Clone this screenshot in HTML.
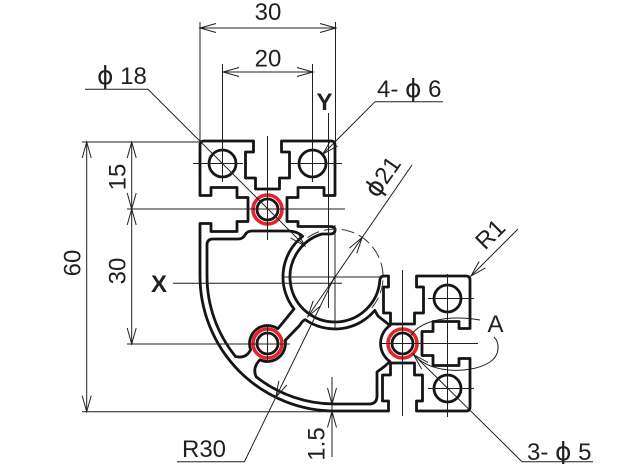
<!DOCTYPE html>
<html><head><meta charset="utf-8">
<style>
html,body{margin:0;padding:0;background:#fff;}
svg{display:block;}
text{font-family:"Liberation Sans",Arial,sans-serif;fill:#231f20;}
.ph{font-family:"DejaVu Sans","Liberation Sans",sans-serif;}
</style></head>
<body>
<svg width="642" height="464" viewBox="0 0 642 464" xmlns="http://www.w3.org/2000/svg">
<rect width="642" height="464" fill="#fff"/>

<!-- profile contours -->
<g fill="none" stroke="#151515" stroke-width="2.8" stroke-linejoin="round">
<path d="M200,145 Q200,141 204,141 L253.5,141 L253.5,152 L245.5,152 L245.5,178 L255.5,178 L255.5,189 L279.5,189 L279.5,178 L289.5,178 L289.5,152 L281.5,152 L281.5,141 L331,141 Q335,141 335,145
L335,195.5 L324,195.5 L324,187.5 L298,187.5 L298,197.5 L287,197.5 L287,221.5 L298,221.5 L298,226.5 L330,226.5 Q335,226.5 335,230 Q335,234 330,234 L321.8,234
A45,45 0 1 0 379.8,280.9 Q380,276 384,276 L388.5,276 L388.5,287 L383.5,287 L383.5,313 L390.5,313 L390.5,324 L414.5,324 L414.5,313 L423.5,313 L423.5,287 L416.5,287 L416.5,276 L466,276 Q470,276 470,280
L470,328.5 L459,328.5 L459,321.5 L433,321.5 L433,331.5 L422,331.5 L422,355.5 L433,355.5 L433,365.5 L459,365.5 L459,358.5 L470,358.5 L470,407 Q470,411 466,411
L416.5,411 L416.5,401 L422.5,401 L422.5,375 L414.5,375 L414.5,363 L390.5,363 L390.5,375 L382.5,375 L382.5,401 L388.5,401 L388.5,411 L335,411
A135,135 0 0 1 200,276 L200,223.5 L211,223.5 L211,231.5 L237,231.5 L237,221.5 L248,221.5 L248,197.5 L237,197.5 L237,187.5 L211,187.5 L211,195.5 L200,195.5 Z"/>
<!-- cavity A -->
<path d="M207,245 Q207,239 213,239 L238,239 Q243,239 245,235 Q247,231 252,231 L288,231 Q297,231 302.6,236.3 A52,52 0 0 0 294,309 L277.8,328.8 A18,18 0 0 0 250.6,349.7 Q246,359 235.5,356.5 A128,128 0 0 1 207,276 Z"/>
<!-- cavity B -->
<path d="M259.9,359.8 A18,18 0 0 0 285.2,340.4 L300,325 Q302,321 305.2,319.6 A52,52 0 0 0 374.8,310.4 L378,316 L389.9,325.5 A22,22 0 0 0 389.9,361.5 L385,366 L377,372 L377,396 Q377,404 369,404 L335,404 A128,128 0 0 1 256.2,376.9 Q252,368 259.9,359.8 Z"/>
<!-- holes -->
<circle cx="222.5" cy="163.5" r="13.5"/>
<circle cx="312.5" cy="163.5" r="13.5"/>
<circle cx="447.5" cy="298.5" r="13.5"/>
<circle cx="447.5" cy="388.5" r="13.5"/>
<circle cx="267.5" cy="209.5" r="10.5"/>
<circle cx="267.5" cy="343.5" r="10.5"/>
<circle cx="402.5" cy="343.5" r="10.5"/>
</g>
<g fill="none" stroke="#e3242b" stroke-width="3.6">
<circle cx="267.5" cy="209.5" r="14.5"/>
<circle cx="267.5" cy="343.5" r="14.5"/>
<circle cx="402.5" cy="343.5" r="14.5"/>
</g>

<!-- dashed phi21 circle -->
<path d="M307.5,237.7 A48,48 0 0 1 371.8,307.9" fill="none" stroke="#333" stroke-width="1" stroke-dasharray="13 5"/>

<!-- thin lines -->
<g fill="none" stroke="#231f20" stroke-width="1">
<path d="M200,28 H336 M200,22 V141 M335.5,22 V141"/>
<path d="M223,72 H313 M222.5,64 V182 M312.5,64 V182"/>
<path d="M85,89.3 H148 L305,246"/>
<path d="M443,101.7 H375 L323,154"/>
<path d="M328.5,113 V308 M335,225 V330"/>
<path d="M86.7,142 V411.7 M82,142 H200 M82,411.7 H333"/>
<path d="M131.7,142 V344 M127,209 H345 M127,344 H290"/>
<path d="M173,283.3 H342 M283,277 H386"/>
<path d="M412,165 L307.8,316.6"/>
<path d="M335,276 L244.4,461.7 H177"/>
<path d="M332,377 V457"/>
<path d="M593,461.7 H522 L413.5,354.5"/>
<path d="M518,229 L471,276"/>
<path d="M267.5,136 V240 M267.5,325 V362"/>
<path d="M193,163.5 H243 M290,163.5 H342"/>
<path d="M380,343.5 H478 M402.5,270 V416 M447.5,274 V417"/>
<path d="M428,298.5 H474 M428,388.5 H474"/>
<path d="M410,337 C418,322 445,314 480,320"/>
<path d="M413,353 C425,372 468,376 490,362 C500,355 500,343 494,337"/>
<!-- arrowheads -->
<path d="M216,23.5 L200,28 L216,32.5 M320,23.5 L336,28 L320,32.5"/>
<path d="M239,67.5 L223,72 L239,76.5 M297,67.5 L313,72 L297,76.5"/>
<path d="M82.2,158 L86.7,142 L91.2,158 M82.2,395.7 L86.7,411.7 L91.2,395.7"/>
<path d="M127.2,158 L131.7,142 L136.2,158 M127.2,193 L131.7,209 L136.2,193"/>
<path d="M127.2,225 L131.7,209 L136.2,225 M127.2,328 L131.7,344 L136.2,328"/>
<path d="M327.5,388 L332,404 L336.5,388 M327.5,427.5 L332,411.5 L336.5,427.5"/>
<path d="M290.5,237.9 L305,246 L296.9,231.5"/>
<path d="M337.5,145.9 L323,154 L331.1,139.5"/>
<path d="M485.5,267.9 L471,276 L479.1,261.5"/>
<path d="M356.8,253.2 L362.2,237.4 L349.4,248.1 M320.6,305.9 L307.8,316.6 L313.2,300.8"/>
<path d="M286.8,384.9 L275.8,397.3 L278.8,380.9"/>
<path d="M428,362.6 L413.5,354.5 L421.6,369"/>
</g>

<!-- labels -->
<text x="268" y="20" font-size="24" text-anchor="middle">30</text>
<text x="268" y="66.5" font-size="24" text-anchor="middle">20</text>
<text x="97" y="84" font-size="24"><tspan class="ph" font-size="25">ϕ</tspan> 18</text>
<text x="377" y="97" font-size="24">4- <tspan class="ph" font-size="25">ϕ</tspan> 6</text>
<text x="324.5" y="110" font-size="24" font-weight="bold" text-anchor="middle">Y</text>
<text x="159" y="292" font-size="24" font-weight="bold" text-anchor="middle">X</text>
<text x="495.5" y="332" font-size="24" text-anchor="middle">A</text>
<text x="182" y="457" font-size="24">R30</text>
<text x="527" y="460" font-size="24">3- <tspan class="ph" font-size="25">ϕ</tspan> 5</text>
<text transform="translate(72,263) rotate(-90)" y="8.5" font-size="24" text-anchor="middle">60</text>
<text transform="translate(117,177) rotate(-90)" y="8.5" font-size="24" text-anchor="middle">15</text>
<text transform="translate(117,271) rotate(-90)" y="8.5" font-size="24" text-anchor="middle">30</text>
<text transform="translate(316,444) rotate(-90)" y="8.5" font-size="24" text-anchor="middle">1.5</text>
<text transform="translate(490,234) rotate(-45)" y="8.5" font-size="24" text-anchor="middle">R1</text>
<text transform="translate(382.5,176.5) rotate(-55)" y="8.5" font-size="24" text-anchor="middle"><tspan class="ph" font-size="25">ϕ</tspan>21</text>
</svg>
</body></html>
